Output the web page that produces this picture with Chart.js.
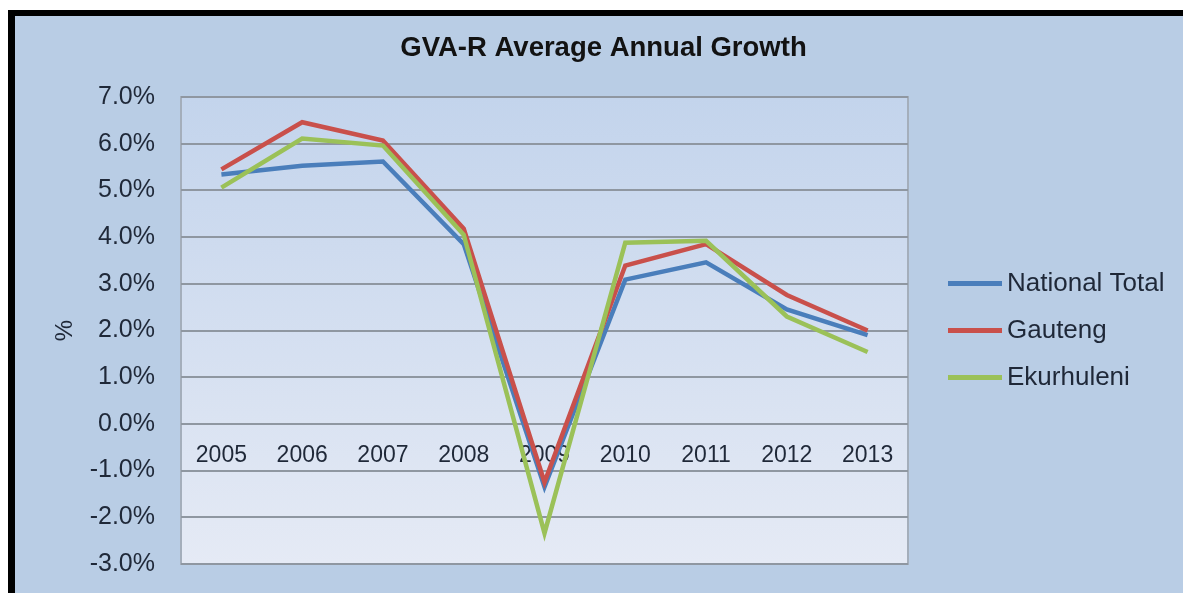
<!DOCTYPE html>
<html>
<head>
<meta charset="utf-8">
<script src="https://cdn.jsdelivr.net/npm/chart.js@4/dist/chart.umd.min.js"></script>
<style>
    html, body { margin: 0; padding: 0; background: #ffffff; overflow: hidden; }
    #frame {
        position: absolute;
        left: 8px;
        top: 10px;
        width: 1168px;
        height: 577px;
        border-left: 7px solid #000;
        border-top: 6px solid #000;
        background: #b9cde5;
    }
    #frame canvas { display: block; }
</style>
</head>
<body>
<div id="frame"><canvas id="growthChart" width="1168" height="577"></canvas></div>
<script>
const years = ["2005", "2006", "2007", "2008", "2009", "2010", "2011", "2012", "2013"];
const nationalTotal = [5.34, 5.53, 5.62, 3.85, -1.35, 3.09, 3.46, 2.45, 1.90];
const gauteng = [5.45, 6.46, 6.07, 4.18, -1.25, 3.39, 3.85, 2.76, 2.00];
const ekurhuleni = [5.06, 6.11, 5.96, 4.05, -2.34, 3.88, 3.92, 2.30, 1.54];
const seriesNames = ["National Total", "Gauteng", "Ekurhuleni"];

const FONT = '"Liberation Sans", Arial, sans-serif';
const TEXT = "#1f2838";

// shaded plot area with a thin frame, painted before grid and lines
const plotBackground = {
    id: "plotBackground",
    beforeDraw(chart) {
        const { ctx, chartArea: a } = chart;
        const grad = ctx.createLinearGradient(0, a.top, 0, a.bottom);
        grad.addColorStop(0, "#c3d4ec");
        grad.addColorStop(1, "#e5eaf5");
        ctx.save();
        ctx.fillStyle = grad;
        ctx.fillRect(a.left, a.top, a.right - a.left, a.bottom - a.top);
        ctx.strokeStyle = "#a4aebb";
        ctx.lineWidth = 2;
        ctx.strokeRect(a.left, a.top, a.right - a.left, a.bottom - a.top);
        ctx.restore();
    }
};

// legend to the right of the plot: short line + series name
const sideLegend = {
    id: "sideLegend",
    afterDraw(chart) {
        const { ctx, chartArea: a } = chart;
        const sets = chart.data.datasets;
        const x = a.right + 40;
        const midY = (a.top + a.bottom) / 2;
        const step = 47;
        ctx.save();
        ctx.font = "26px " + FONT;
        ctx.textBaseline = "middle";
        ctx.textAlign = "left";
        sets.forEach((ds, i) => {
            const y = midY + (i - (sets.length - 1) / 2) * step;
            ctx.strokeStyle = ds.borderColor;
            ctx.lineWidth = 5;
            ctx.beginPath();
            ctx.moveTo(x, y);
            ctx.lineTo(x + 54, y);
            ctx.stroke();
            ctx.fillStyle = TEXT;
            ctx.fillText(ds.label, x + 59, y);
        });
        ctx.restore();
    }
};

const ctx = document.getElementById("growthChart").getContext("2d");
new Chart(ctx, {
    type: "line",
    data: {
        labels: years,
        datasets: [
            { label: seriesNames[0], data: nationalTotal, borderColor: "#4a7ebb", order: 2 },
            { label: seriesNames[1], data: gauteng, borderColor: "#c9504b", order: 1 },
            { label: seriesNames[2], data: ekurhuleni, borderColor: "#9bc158", order: 0 }
        ]
    },
    options: {
        responsive: false,
        animation: false,
        layout: { padding: { left: 9, right: 0, top: 0, bottom: 29 } },
        elements: {
            line: { borderWidth: 4.5, tension: 0, fill: false },
            point: { radius: 0, hoverRadius: 0 }
        },
        scales: {
            x: {
                position: { y: 0 },
                offset: true,
                grid: { display: false },
                border: { display: false },
                ticks: { padding: 10, color: TEXT, font: { family: FONT, size: 23 } }
            },
            y: {
                min: -3,
                max: 7,
                afterFit(scale) { scale.width = 157; },
                border: { display: false },
                // invisible tick marks give the label gap without padding the plot
                grid: { color: "#8f97a1", lineWidth: 2, drawTicks: true, tickLength: 13, tickColor: "rgba(0,0,0,0)" },
                ticks: {
                    stepSize: 1,
                    padding: 13,
                    color: TEXT,
                    font: { family: FONT, size: 25 },
                    callback: v => v.toFixed(1) + "%"
                },
                title: {
                    display: true,
                    text: "%",
                    color: TEXT,
                    padding: { top: 27, bottom: 0 },
                    font: { family: FONT, size: 24 }
                }
            },
            // empty axis that keeps room on the right for the legend
            spacer: {
                position: "right",
                grid: { display: false },
                border: { display: false },
                ticks: { display: false },
                afterFit(scale) { scale.width = 275; }
            }
        },
        plugins: {
            legend: { display: false },
            tooltip: { enabled: false },
            title: {
                display: true,
                text: "GVA-R Average Annual Growth",
                color: "#121212",
                padding: { top: 16, bottom: 32 },
                font: { family: FONT, size: 27.5, weight: "bold" }
            }
        }
    },
    plugins: [plotBackground, sideLegend]
});
</script>
</body>
</html>
